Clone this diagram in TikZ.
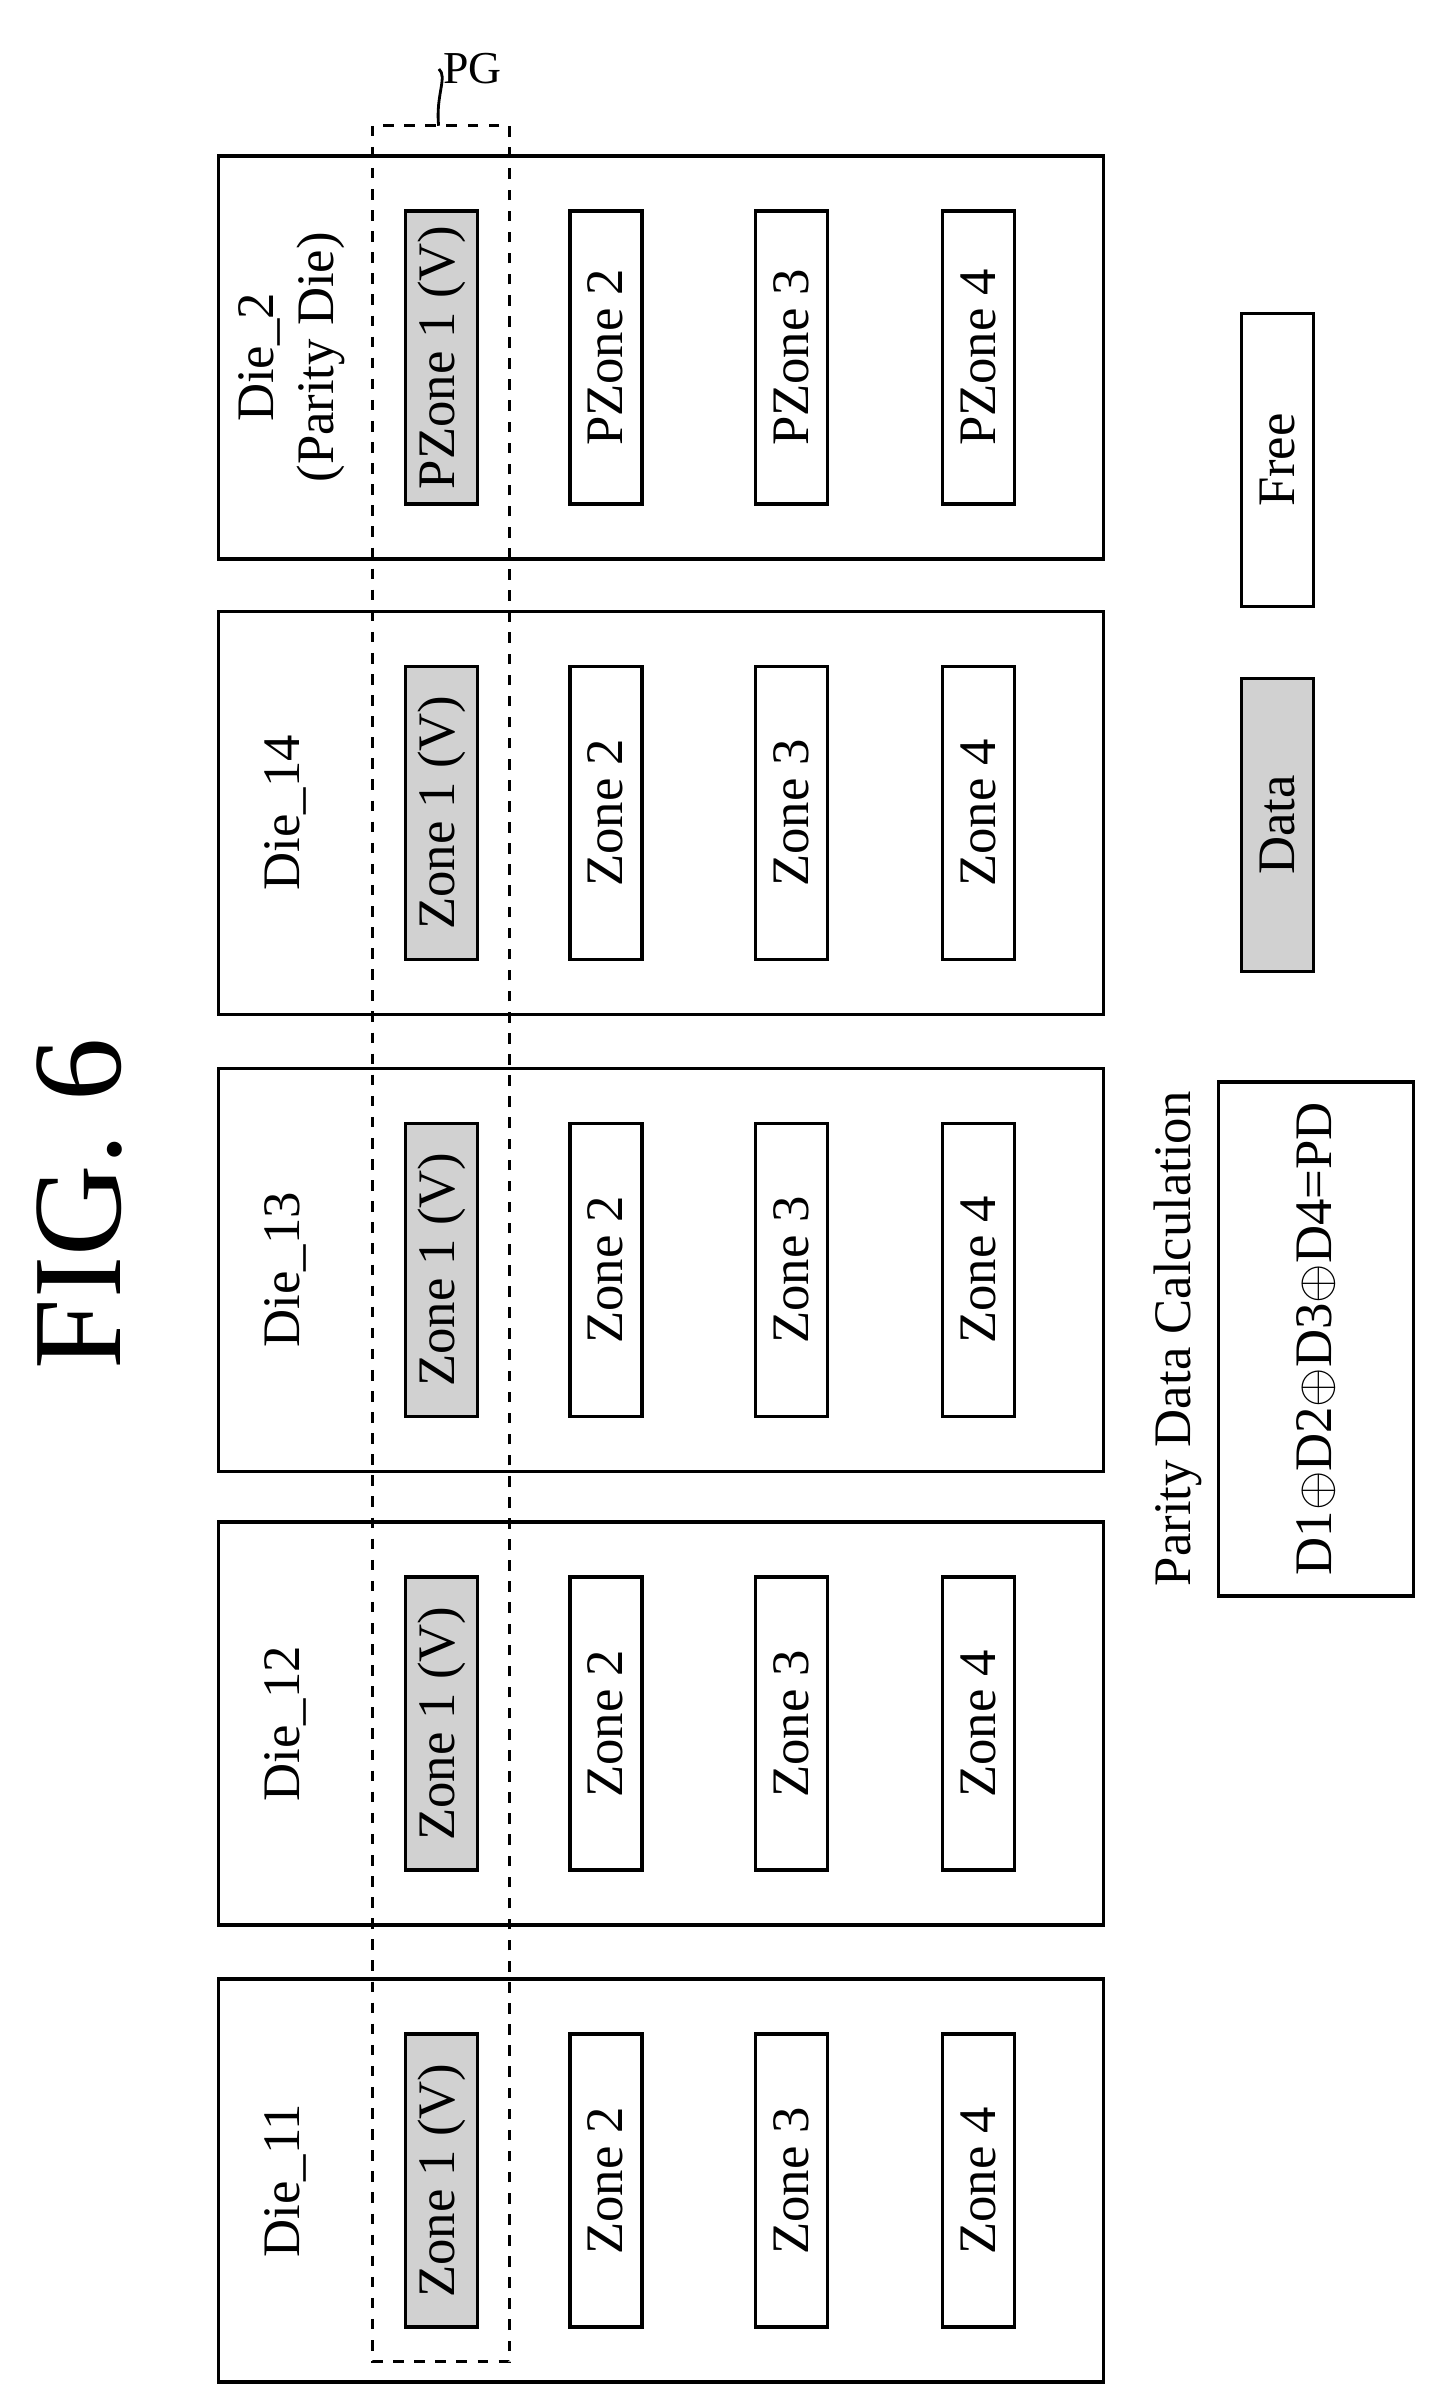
\documentclass[tikz,border=0pt]{standalone}
\usepackage{fontspec}
\setmainfont{Liberation Serif}
\usetikzlibrary{positioning}
\tikzset{
  diebox/.style={draw,line width=1pt,rotate=90,minimum width=4.03cm,minimum height=8.85cm},
  zonebox/.style={draw,line width=1pt,rotate=90,minimum width=2.93cm,minimum height=0.72cm,font=\fontsize{15}{17}\selectfont},
  databox/.style={zonebox,fill=black!18},
  lbl/.style={rotate=90,font=\fontsize{15}{17}\selectfont,align=center}
}
\begin{document}
\begin{tikzpicture}[x=0.01533cm,y=-0.01533cm]
\useasboundingbox (0,0) rectangle (940,1565);
% title
\node[rotate=90,font=\fontsize{36}{36}\selectfont] (fig) at (52,785) {FIG. 6};
% dies
\foreach \n/\yc in {11/1422,12/1124,13/828,14/530}{
  \node[diebox] (die\n) at (431,\yc) {};
  \node[lbl] (lab\n) at (186,\yc) {Die\_\n};
  \node[databox] (z1\n) at (288,\yc) {Zone 1 (V)};
  \node[zonebox] (z2\n) at (395,\yc) {Zone 2};
  \node[zonebox] (z3\n) at (516,\yc) {Zone 3};
  \node[zonebox] (z4\n) at (638,\yc) {Zone 4};
}
% parity die
\node[diebox] (die2) at (431,233) {};
\node[lbl] (lab2) at (190,233) {Die\_2\\(Parity Die)};
\node[databox] (pz1) at (288,233) {PZone 1 (V)};
\node[zonebox] (pz2) at (395,233) {PZone 2};
\node[zonebox] (pz3) at (516,233) {PZone 3};
\node[zonebox] (pz4) at (638,233) {PZone 4};
% parity group
\draw[dashed,line width=0.8pt] (243,82) rectangle (332,1540);
\coordinate (pgtop) at (286,82);
\node[font=\fontsize{13}{15}\selectfont,inner sep=1pt] (pg) at (308,45) {PG};
\draw[line width=0.8pt] (pgtop) .. controls (284,62) and (292,50) .. (pg.west);
% parity calculation
\node[lbl] (calc) at (768,873) {Parity Data Calculation};
\node[draw,line width=1pt,rotate=90,minimum width=5.14cm,minimum height=1.95cm,font=\fontsize{15}{17}\selectfont] (eq) at (858,873) {D1$\oplus$D2$\oplus$D3$\oplus$D4=PD};
% legend
\node[databox] (data) at (833,538) {Data};
\node[zonebox] (free) at (833,300) {Free};
\end{tikzpicture}
\end{document}
